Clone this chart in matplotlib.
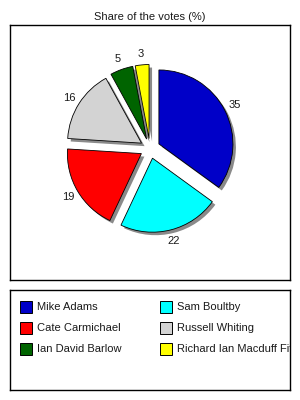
import math

import matplotlib
matplotlib.use("Agg")
import matplotlib.pyplot as plt
import matplotlib.patches as mpatches

# Datos del gráfico
candidates = ["Mike Adams", "Sam Boultby", "Cate Carmichael", "Russell Whiting",
              "Ian David Barlow", "Richard Ian Macduff Fife"]
votes = [35, 22, 19, 16, 5, 3]
colors = ["#0000C8", "#00FFFF", "#FF0000", "#D3D3D3", "#006400", "#FFFF00"]

TITLE = "Share of the votes (%)"
SHADOW = "#8A8A8A"
INK = "#1A1A1A"
FONT = "Liberation Sans"
FS = 8

fig = plt.figure(figsize=(3, 4), dpi=100)
fig.patch.set_facecolor("white")

# ----- marco del gráfico (unidades en píxeles) -----
ax = fig.add_axes([10 / 300, 120 / 400, 280 / 300, 255 / 400])
radius = 74
center = (140, 131.5)
explode = [10] * len(votes)

# sombra gris desplazada
ax.pie(votes, explode=explode, colors=[SHADOW] * len(votes), startangle=90,
       counterclock=False, radius=radius, center=(center[0] + 3, center[1] - 3),
       wedgeprops={"linewidth": 0}, frame=True)
wedges, _ = ax.pie(votes, explode=explode, colors=colors, startangle=90,
                   counterclock=False, radius=radius, center=center,
                   wedgeprops={"edgecolor": "black", "linewidth": 0.6}, frame=True)

for w, v in zip(wedges, votes):
    mid = math.radians((w.theta1 + w.theta2) / 2)
    cx, cy = w.center
    ax.text(cx + 1.15 * radius * math.cos(mid), cy + 1.15 * radius * math.sin(mid),
            str(v), ha="center", va="center", fontsize=FS, color=INK, family=FONT)

ax.set_xlim(0, 280)
ax.set_ylim(0, 255)
ax.set_aspect("equal")
ax.set_xticks([])
ax.set_yticks([])
for s in ax.spines.values():
    s.set_linewidth(1.0)
    s.set_color("black")

fig.text(0.5, 1 - 17 / 400, TITLE, ha="center", va="center", fontsize=FS,
         color=INK, family=FONT)

# ----- leyenda en su propio recuadro -----
lax = fig.add_axes([10 / 300, 10 / 400, 280 / 300, 100 / 400])
lax.set_xlim(0, 280)
lax.set_ylim(100, 0)
lax.set_xticks([])
lax.set_yticks([])
for s in lax.spines.values():
    s.set_linewidth(1.0)
    s.set_color("black")

for i, (name, col) in enumerate(zip(candidates, colors)):
    row, colnum = divmod(i, 2)
    x0 = 10 + colnum * 140
    y0 = 17 + row * 21
    lax.add_patch(mpatches.Rectangle((x0, y0 - 6), 12, 12, facecolor=col,
                                     edgecolor="black", linewidth=0.7))
    lax.text(x0 + 17, y0, name, ha="left", va="center", fontsize=FS,
             color=INK, family=FONT, clip_on=True)

fig.savefig("out.png", dpi=100, facecolor="white")
